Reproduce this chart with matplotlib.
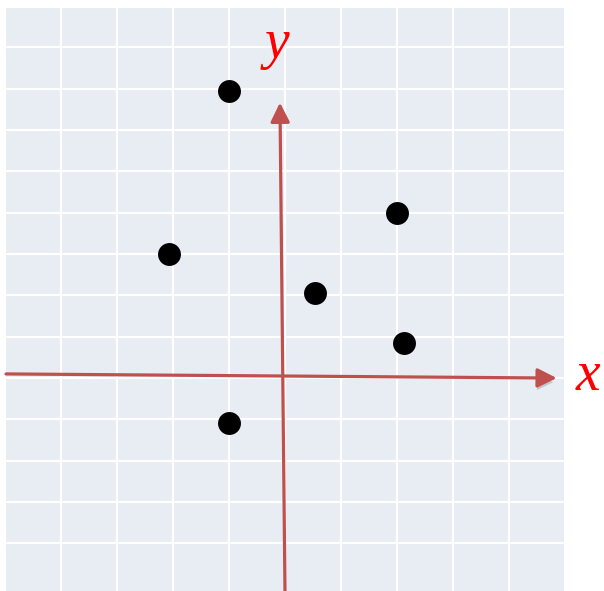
import matplotlib
matplotlib.use("Agg")
import matplotlib.pyplot as plt
import matplotlib.patheffects as pe
from matplotlib.patches import FancyArrowPatch

# data points (grid units)
pt_x = [-1.0, -2.07, 2.0, 0.54, 2.13, -1.0]
pt_y = [6.95, 3.0, 4.0, 2.05, 0.84, -1.08]

x_grid = [-4, -3, -2, -1, 0, 1, 2, 3, 4]
y_grid = [-4, -3, -2, -1, 0, 1, 2, 3, 4, 5, 6, 7, 8]

# axis arrows (start, end) in grid units
x_axis_start = (-4.98, 0.10)
x_axis_end = (4.85, 0.0)
y_axis_start = (0.0, -5.2)
y_axis_end = (-0.09, 6.66)

AX_RED = "#C0504D"
BG = "#E8ECF3"

fig = plt.figure(figsize=(6.04, 5.91), dpi=100)
ax = fig.add_axes([6/604, 0.0, 558/604, 583/591])
ax.set_facecolor(BG)
ax.set_xlim(-4.98, 4.98)
ax.set_ylim(-5.15, 8.95)
ax.set_xticks(x_grid)
ax.set_yticks(y_grid)
ax.grid(True, color="white", linewidth=1.6)
ax.set_axisbelow(True)
ax.tick_params(length=0, labelbottom=False, labelleft=False)
for s in ax.spines.values():
    s.set_visible(False)

style = "-|>,head_length=0.58,head_width=0.29"
xa = FancyArrowPatch(x_axis_start, x_axis_end, arrowstyle=style, mutation_scale=20,
                     color=AX_RED, linewidth=2.3, shrinkA=0, shrinkB=0, zorder=3,
                     clip_on=False)
xa.set_path_effects([pe.SimplePatchShadow(offset=(0, -3), shadow_rgbFace="#808080", alpha=0.35),
                     pe.Normal()])
ax.add_patch(xa)
ya = FancyArrowPatch(y_axis_start, y_axis_end, arrowstyle=style, mutation_scale=20,
                     color=AX_RED, linewidth=2.3, shrinkA=0, shrinkB=0, zorder=3,
                     clip_on=False)
ax.add_patch(ya)

ax.scatter(pt_x, pt_y, s=16.5**2, color="black", zorder=4, linewidths=0)

fig.text(576/604, 1 - 376/591, "x", color="#FF0000", fontsize=40, style="italic",
         family="Liberation Serif", ha="left", va="center")
fig.text(277/604, 1 - 44/591, "y", color="#FF0000", fontsize=40, style="italic",
         family="Liberation Serif", ha="center", va="center")

fig.savefig("out.png", dpi=100, facecolor="white")
